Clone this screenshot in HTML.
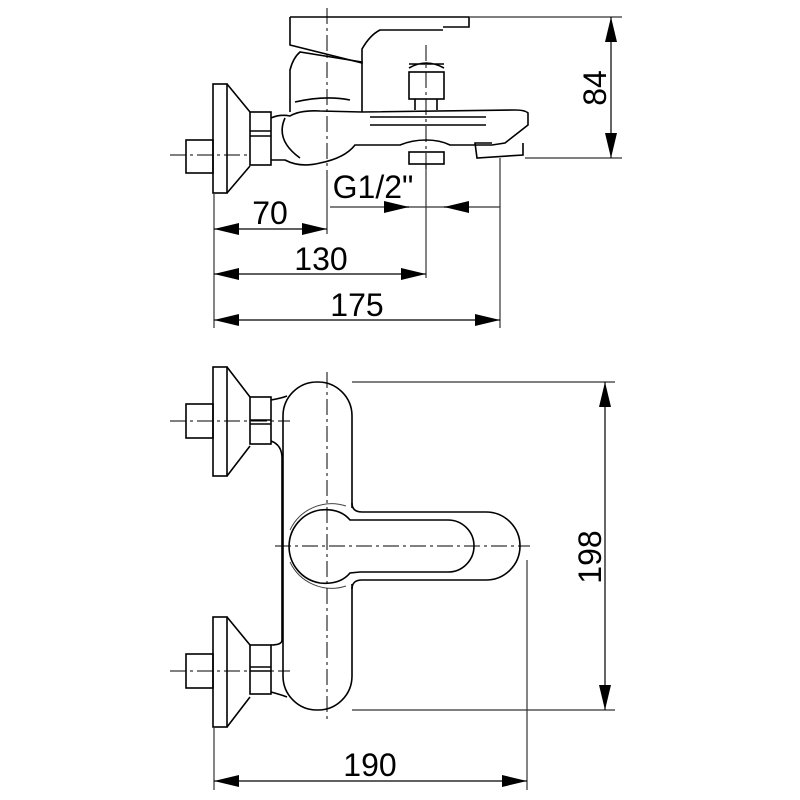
<!DOCTYPE html>
<html><head><meta charset="utf-8"><style>
html,body{margin:0;padding:0;background:#fff;}
svg{display:block}
text{font-family:"Liberation Sans",sans-serif;font-size:32px;fill:#000}
</style></head><body>
<svg width="800" height="800" viewBox="0 0 800 800" xmlns="http://www.w3.org/2000/svg">
<defs>
<marker id="a" viewBox="0 0 25 12" refX="25" refY="6" markerWidth="25" markerHeight="12" markerUnits="userSpaceOnUse" orient="auto-start-reverse"><path d="M0,0 L25,6 L0,12 Z" fill="#000"/></marker>
</defs>
<g fill="none" stroke="#000" stroke-width="1.6">
<!-- TOP VIEW -->
<rect x="186" y="140" width="27" height="33"/>
<rect x="213" y="84" width="14" height="109"/>
<path d="M227,84 L250,112 M227,193 L250,166"/>
<rect x="250" y="112" width="21" height="53"/>
<path d="M250,131 H271 M250,136 H271"/>
<path d="M271,118 Q280,114 290,116 Q300,110 320,111 L362,112"/>
<path d="M271,160 L285,160 Q300,168 320,163 Q345,158 355,145 L362,145"/>
<path d="M285,118 Q275,140 300,158"/>
<path d="M290,112 L290,70 Q293,58 300,52 L362,62 L362,112"/>
<path d="M295,102 Q325,95 350,100"/>
<path d="M290,17 H469 V27 H443 M290,17 V45 L362,63 V49 Q370,35 380,30 H443"/>
<path d="M362,112 L515,110 Q525,110 528,113 L528,125 L505,143 L492,145 L450,145 Q440,140 426,140 Q412,140 400,145 L362,145"/>
<path d="M370,117 H486 M370,125 H486"/>
<path d="M492,143 L475,143 L477,158 L523,155 L523,143"/>
<rect x="409" y="152" width="35" height="12"/>
<rect x="409" y="72" width="35" height="27"/>
<path d="M409,68 Q426,58 444,68 M409,64 H444 M415,99 V110 M437,99 V110"/>
<!-- BOTTOM VIEW -->
<rect x="186" y="404" width="27" height="34"/>
<rect x="213" y="367" width="14" height="109"/>
<path d="M227,367 L250,397 M227,476 L250,446"/>
<rect x="250" y="397" width="21" height="47"/>
<path d="M250,420 H271 M250,424 H271"/>
<rect x="186" y="654" width="27" height="34"/>
<rect x="213" y="617" width="14" height="110"/>
<path d="M227,617 L250,645 M227,727 L250,697"/>
<rect x="250" y="645" width="21" height="49"/>
<path d="M250,667 H271 M250,671 H271"/>
<path d="M271,400 Q282,398 287,396 M271,441 Q282,445 282,458 L282,640 Q282,645 271,645 M271,692 Q282,695 287,697"/>
<rect x="283" y="382" width="69" height="328" rx="34" ry="34"/>
<rect x="348" y="508" width="10" height="76" fill="#fff" stroke="none"/>
<path d="M352,503 Q352,512 362,512 H486 A34,34 0 0 1 486,580 H362 Q352,580 352,589"/>
<path d="M350,520 Q340,508 320,510 A37,37 0 0 0 320,583 Q340,585 350,573 L360,572 H448 A26,26 0 0 0 448,520 H360 Z"/>
<path d="M290,530 A46,46 0 0 1 346,506 M290,562 A46,46 0 0 0 346,586" stroke-width="1" stroke="#444"/>
<!-- extension lines -->
<g stroke-width="1.2" stroke="#333">
<path d="M214,193 V328 M327,180 V234 M426,165 V278 M500,158 V328"/>
<path d="M470,17 H622 M525,158 H622"/>
<path d="M352,382 H615 M352,710 H615"/>
<path d="M214,727 V790 M527,560 V790"/>
<path d="M330,207 H500"/>
</g>
</g>
<!-- center lines -->
<g fill="none" stroke="#000" stroke-width="1" stroke-dasharray="16,4,3,4">
<path d="M327,8 V180 M426,45 V170 M170,155 H250 M170,421 H290 M170,671 H290 M327,372 V720 M275,546 H530"/>
</g>
<!-- dimension lines -->
<g fill="none" stroke="#000" stroke-width="1.2">
<path d="M214,229 H327" marker-start="url(#a)" marker-end="url(#a)"/>
<path d="M214,274 H426" marker-start="url(#a)" marker-end="url(#a)"/>
<path d="M214,320 H500" marker-start="url(#a)" marker-end="url(#a)"/>
<path d="M384,207 H409" marker-end="url(#a)"/>
<path d="M469,207 H444" marker-end="url(#a)"/>
<path d="M611,17 V158" marker-start="url(#a)" marker-end="url(#a)"/>
<path d="M605,382 V710" marker-start="url(#a)" marker-end="url(#a)"/>
<path d="M214,781 H527" marker-start="url(#a)" marker-end="url(#a)"/>
</g>
<text x="270" y="224" text-anchor="middle">70</text>
<text x="321" y="270" text-anchor="middle">130</text>
<text x="357" y="316" text-anchor="middle">175</text>
<text x="373" y="198" text-anchor="middle">G1/2"</text>
<text x="370" y="776" text-anchor="middle">190</text>
<text transform="translate(606,88) rotate(-90)" text-anchor="middle">84</text>
<text transform="translate(601,557) rotate(-90)" text-anchor="middle">198</text>
</svg>
</body></html>
